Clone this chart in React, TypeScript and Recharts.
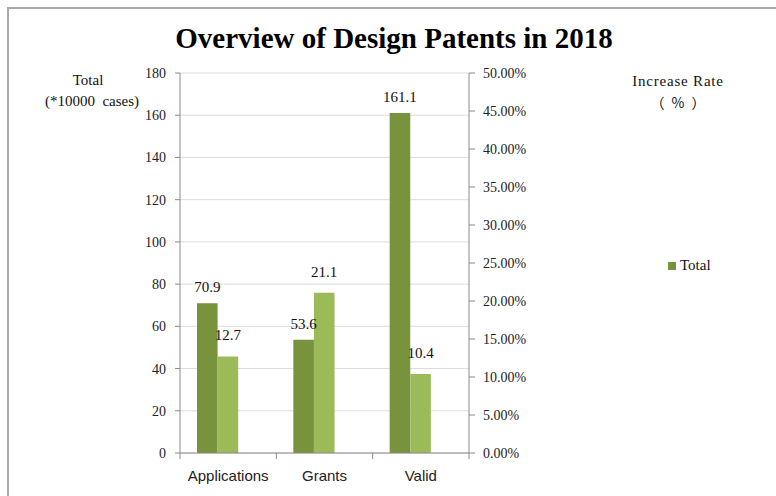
import React from "react";
import {
  BarChart,
  Bar,
  XAxis,
  YAxis,
  CartesianGrid,
  Legend,
  LabelList,
} from "recharts";

const categories = ["Applications", "Grants", "Valid"];
const totals = [70.9, 53.6, 161.1];
const rates = [0.127, 0.211, 0.104];
// Excel chart keeps an empty third slot in each group, which pushes the pair left
const emptySlot = [null, null, null];
const leftTicks = [0, 20, 40, 60, 80, 100, 120, 140, 160, 180];
const rightTicks = [0, 0.05, 0.1, 0.15, 0.2, 0.25, 0.3, 0.35, 0.4, 0.45, 0.5];

const data = categories.map((name, i) => ({
  name,
  total: totals[i],
  rate: rates[i],
  empty: emptySlot[i],
}));

const SERIF = '"Liberation Serif", "Times New Roman", serif';
const SANS = '"Liberation Sans", Arial, sans-serif';
const AXIS = "#8a8a8a";
const DARK = "#77933C";
const LIGHT = "#9BBB59";

const W = 776;
const H = 496;
const BAND = (469 - 180) / 3;

const CategoryTick = (props: any) => {
  const { x, y, payload, index } = props;
  return (
    <g>
      <line x1={x - BAND / 2} x2={x - BAND / 2} y1={y - 17} y2={y - 11} stroke={AXIS} />
      {index === categories.length - 1 && (
        <line x1={x + BAND / 2} x2={x + BAND / 2} y1={y - 17} y2={y - 11} stroke={AXIS} />
      )}
      <text x={x} y={y} dy="0.71em" textAnchor="middle" fontFamily={SANS} fontSize={15} fill="#222">
        {payload.value}
      </text>
    </g>
  );
};

const renderLegend = () => (
  <div style={{ display: "flex", alignItems: "center", fontFamily: SERIF, fontSize: 15, color: "#111" }}>
    <span style={{ width: 8, height: 8, background: DARK, display: "inline-block", marginRight: 4 }} />
    <span>Total</span>
  </div>
);

const abs = (left: number, top: number, width: number): React.CSSProperties => ({
  position: "absolute",
  left,
  top,
  width,
  textAlign: "center",
  fontFamily: SERIF,
  fontSize: 15,
  lineHeight: "18px",
  color: "#111",
  whiteSpace: "pre",
});

export default function App() {
  return (
    <div style={{ position: "absolute", left: 0, top: 0, width: W, height: H, background: "#fff", overflow: "hidden" }}>
      <div
        style={{
          position: "absolute",
          left: 7,
          top: 7,
          width: W,
          height: H,
          borderTop: "2px solid #a8a8a8",
          borderLeft: "2px solid #a8a8a8",
        }}
      />
      <div
        style={{
          position: "absolute",
          left: 6,
          top: 21,
          width: W,
          textAlign: "center",
          fontFamily: SERIF,
          fontWeight: "bold",
          fontSize: 29,
          lineHeight: "34px",
          color: "#000",
        }}
      >
        Overview of Design Patents in 2018
      </div>
      <div style={abs(-12, 71, 200)}>Total</div>
      <div style={abs(-8, 92, 200)}>{"(*10000  cases)"}</div>
      <div style={{ ...abs(578, 72, 200), letterSpacing: 0.8 }}>Increase Rate</div>
      <div
        style={{
          ...abs(578, 93, 200),
          fontFamily: '"Noto Sans CJK SC", "Noto Sans CJK JP", sans-serif',
          fontSize: 14,
          letterSpacing: 7,
          textIndent: 7,
        }}
      >
        （%）
      </div>
      <div style={{ position: "absolute", left: 0, top: 0 }}>
        <BarChart
          width={W}
          height={H}
          data={data}
          margin={{ top: 73, right: 257, bottom: 13, left: 130 }}
          barGap={0}
          barSize={20.6}
        >
          <CartesianGrid yAxisId="left" vertical={false} stroke="#dcdcdc" />
          <XAxis
            dataKey="name"
            height={30}
            axisLine={{ stroke: AXIS }}
            tickLine={false}
            tickSize={6}
            tickMargin={11}
            tick={<CategoryTick />}
            interval={0}
          />
          <YAxis
            yAxisId="left"
            width={50}
            domain={[0, 180]}
            ticks={leftTicks}
            interval={0}
            axisLine={{ stroke: AXIS }}
            tickLine={{ stroke: AXIS }}
            tickSize={5}
            tickMargin={9}
            tick={{ fontFamily: SERIF, fontSize: 14, fill: "#222" }}
          />
          <YAxis
            yAxisId="right"
            orientation="right"
            width={50}
            domain={[0, 0.5]}
            ticks={rightTicks}
            interval={0}
            axisLine={{ stroke: AXIS }}
            tickLine={{ stroke: AXIS }}
            tickSize={6}
            tickMargin={8}
            tickFormatter={(v: number) => (v * 100).toFixed(2) + "%"}
            tick={{ fontFamily: SERIF, fontSize: 14, fill: "#222", textAnchor: "start" }}
          />
          <Legend
            layout="horizontal"
            verticalAlign="middle"
            align="center"
            content={renderLegend}
            wrapperStyle={{ position: "absolute", left: 668, top: 257, width: 80 }}
          />
          <Bar dataKey="total" name="Total" yAxisId="left" fill={DARK} isAnimationActive={false}>
            <LabelList
              dataKey="total"
              position="top"
              offset={11}
              style={{ fontFamily: SERIF, fontSize: 15, fill: "#111" }}
            />
          </Bar>
          <Bar dataKey="rate" name="Increase Rate" yAxisId="right" fill={LIGHT} isAnimationActive={false}>
            <LabelList
              dataKey="rate"
              position="top"
              offset={16}
              formatter={(v: any) => (Number(v) * 100).toFixed(1)}
              style={{ fontFamily: SERIF, fontSize: 15, fill: "#111" }}
            />
          </Bar>
          <Bar dataKey="empty" yAxisId="left" fill="none" legendType="none" isAnimationActive={false} />
        </BarChart>
      </div>
    </div>
  );
}
